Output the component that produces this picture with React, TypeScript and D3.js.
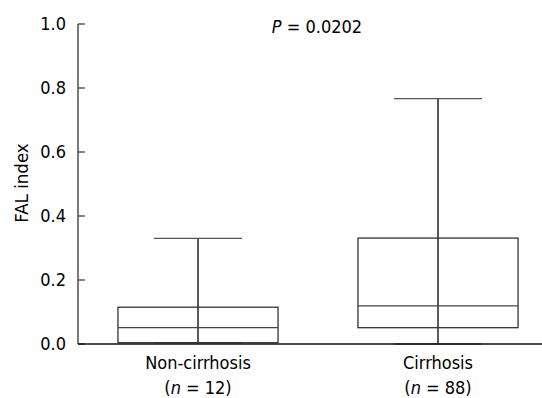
import React from 'react';
import * as d3 from 'd3';

// box plot values
const categories = ['Non-cirrhosis', 'Cirrhosis'];
const sampleSizes = ['12', '88'];
const whiskerLow = [0.004, 0.0];
const q1 = [0.004, 0.051];
const medians = [0.051, 0.119];
const q3 = [0.115, 0.331];
const whiskerHigh = [0.33, 0.767];
const yTicks = [0, 0.2, 0.4, 0.6, 0.8, 1.0];
const pLabel = '0.0202';

const W = 542,
  H = 398;
const margin = { top: 24, left: 78, bottom: 54 };
const font = "'DejaVu Sans Condensed', 'Liberation Sans', sans-serif";
const ink = '#1a1a1a';

function App() {
  const y = d3
    .scaleLinear()
    .domain([0, 1])
    .range([H - margin.bottom, margin.top]);
  const x = d3
    .scaleBand()
    .domain(categories)
    .range([margin.left, margin.left + 480])
    .paddingInner(0.333)
    .paddingOuter(0.1665);
  const boxW = x.bandwidth();
  const capW = boxW * 0.55;

  const rows = categories.map((c, i) => ({
    c,
    n: sampleSizes[i],
    lo: whiskerLow[i],
    q1: q1[i],
    med: medians[i],
    q3: q3[i],
    hi: whiskerHigh[i],
  }));

  const y0 = y(0);
  return (
    <svg width={W} height={H} style={{ position: 'absolute', left: 0, top: 0 }} fontFamily={font}>
      {/* boxes */}
      {rows.map(d => {
        const x0 = x(d.c) as number;
        const cx = x0 + boxW / 2;
        return (
          <g key={d.c} fill="none" stroke={ink} strokeWidth={1.3}>
            <line x1={cx} x2={cx} y1={y(d.hi)} y2={y(d.lo)} stroke="#000" />
            <line x1={cx - capW / 2} x2={cx + capW / 2} y1={y(d.hi)} y2={y(d.hi)} stroke="#555" />
            <line x1={cx - capW / 2} x2={cx + capW / 2} y1={y(d.lo)} y2={y(d.lo)} stroke="#555" />
            <rect x={x0} y={y(d.q3)} width={boxW} height={y(d.q1) - y(d.q3)} stroke="#333" />
            <line x1={x0} x2={x0 + boxW} y1={y(d.med)} y2={y(d.med)} stroke="#444" />
          </g>
        );
      })}

      {/* y axis */}
      <line x1={margin.left} x2={margin.left} y1={margin.top} y2={y0} stroke="#333" strokeWidth={1.3} />
      {yTicks.map(t => (
        <g key={t} transform={`translate(0,${y(t)})`}>
          <line x1={margin.left} x2={margin.left + 7} stroke="#333" strokeWidth={1.2} />
          <text x={margin.left - 12} dy="0.35em" textAnchor="end" fontSize={18} fill="#000">
            {d3.format('.1f')(t)}
          </text>
        </g>
      ))}
      {/* x axis */}
      <line x1={margin.left} x2={W} y1={y0} y2={y0} stroke="#111" strokeWidth={1.3} />

      {/* category labels */}
      {rows.map(d => {
        const cx = (x(d.c) as number) + boxW / 2;
        return (
          <g key={d.c} fontSize={18} fill="#000" textAnchor="middle">
            <text x={cx} y={369}>
              {d.c}
            </text>
            <text x={cx} y={394}>
              (<tspan fontStyle="italic">n</tspan> = {d.n})
            </text>
          </g>
        );
      })}

      <text
        transform={`translate(28,${(margin.top + y0) / 2 - 1}) rotate(-90)`}
        textAnchor="middle"
        fontSize={18.5}
        fill="#000"
      >
        FAL index
      </text>

      <text x={317} y={33} textAnchor="middle" fontSize={18} fill="#000">
        <tspan fontStyle="italic">P</tspan> = {pLabel}
      </text>
    </svg>
  );
}

export default App;
